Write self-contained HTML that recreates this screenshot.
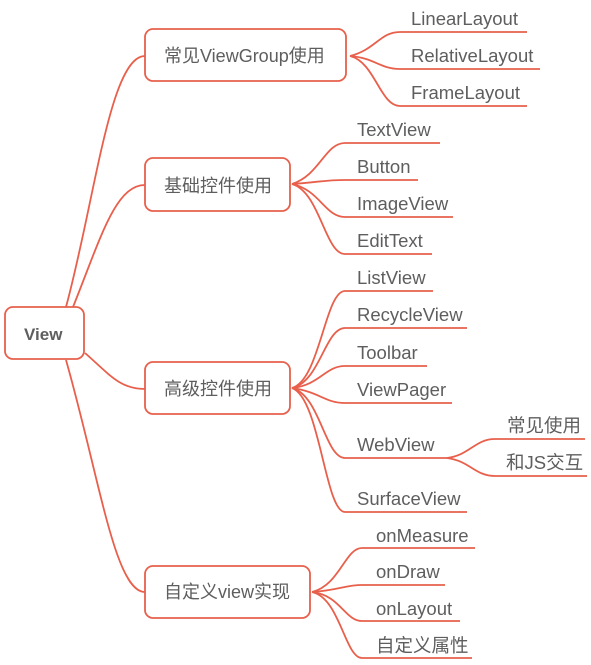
<!DOCTYPE html>
<html><head><meta charset="utf-8"><style>
html,body{margin:0;padding:0;background:#fff;}
svg{display:block}
text{font-family:"Liberation Sans","Noto Sans CJK SC",sans-serif;font-size:18.5px;fill:#5e5e5e;}
</style></head><body>
<svg width="591" height="665" viewBox="0 0 591 665" xmlns="http://www.w3.org/2000/svg">
<g fill="none" stroke="#e8604c" stroke-width="1.8">
<path d="M66 307 C95 200 110 56 145 56"/>
<path d="M73 307 C100 240 115 185 145 185"/>
<path d="M85 353 C110 375 120 389 145 389"/>
<path d="M66 360 C100 480 115 592 145 592"/>
<path d="M350 56 C375 50 380 32 400 32 L527 32"/>
<path d="M350 56 C375 58 380 69 400 69 L540 69"/>
<path d="M350 56 C375 62 380 106 400 106 L527 106"/>
<path d="M292 184 C320 175 325 143 345 143 L440 143"/>
<path d="M292 184 C320 182 325 180 345 180 L418 180"/>
<path d="M292 184 C320 190 325 217 345 217 L453 217"/>
<path d="M292 184 C320 192 325 254 345 254 L432 254"/>
<path d="M292 388 C320 380 325 291 345 291 L433 291"/>
<path d="M292 388 C320 382 325 328 345 328 L467 328"/>
<path d="M292 388 C320 385 325 366 345 366 L427 366"/>
<path d="M292 388 C320 392 325 403 345 403 L452 403"/>
<path d="M292 388 C320 395 325 458 345 458 L447 458"/>
<path d="M292 388 C320 398 325 512 345 512 L467 512"/>
<path d="M447 458 C470 455 475 439 495 439 L585 439"/>
<path d="M447 458 C470 461 475 476 495 476 L587 476"/>
<path d="M312 592 C340 585 345 548 362 548 L475 548"/>
<path d="M312 592 C340 590 345 585 362 585 L445 585"/>
<path d="M312 592 C340 595 345 621 362 621 L460 621"/>
<path d="M312 592 C340 598 345 658 362 658 L472 658"/>
<rect x="5" y="307" width="79" height="52" rx="8" fill="#fff"/>
<rect x="145" y="29" width="201" height="52" rx="8" fill="#fff"/>
<rect x="145" y="158" width="145" height="53" rx="8" fill="#fff"/>
<rect x="145" y="362" width="145" height="52" rx="8" fill="#fff"/>
<rect x="145" y="566" width="165" height="52" rx="8" fill="#fff"/>
</g>
<text x="24" y="340" style="font-weight:bold;font-size:17px">View</text>
<text x="164" y="62" style="font-size:18px">常见ViewGroup使用</text>
<text x="164" y="192" style="font-size:18px">基础控件使用</text>
<text x="164" y="395" style="font-size:18px">高级控件使用</text>
<text x="164" y="598" style="font-size:18px">自定义view实现</text>
<text x="411" y="25">LinearLayout</text>
<text x="411" y="62">RelativeLayout</text>
<text x="411" y="99">FrameLayout</text>
<text x="357" y="136">TextView</text>
<text x="357" y="173">Button</text>
<text x="357" y="210">ImageView</text>
<text x="357" y="247">EditText</text>
<text x="357" y="284">ListView</text>
<text x="357" y="321">RecycleView</text>
<text x="357" y="359">Toolbar</text>
<text x="357" y="396">ViewPager</text>
<text x="357" y="451">WebView</text>
<text x="357" y="505">SurfaceView</text>
<text x="507" y="432">常见使用</text>
<text x="506" y="469">和JS交互</text>
<text x="376" y="542">onMeasure</text>
<text x="376" y="578">onDraw</text>
<text x="376" y="615">onLayout</text>
<text x="376" y="652">自定义属性</text>
</svg>
</body></html>
